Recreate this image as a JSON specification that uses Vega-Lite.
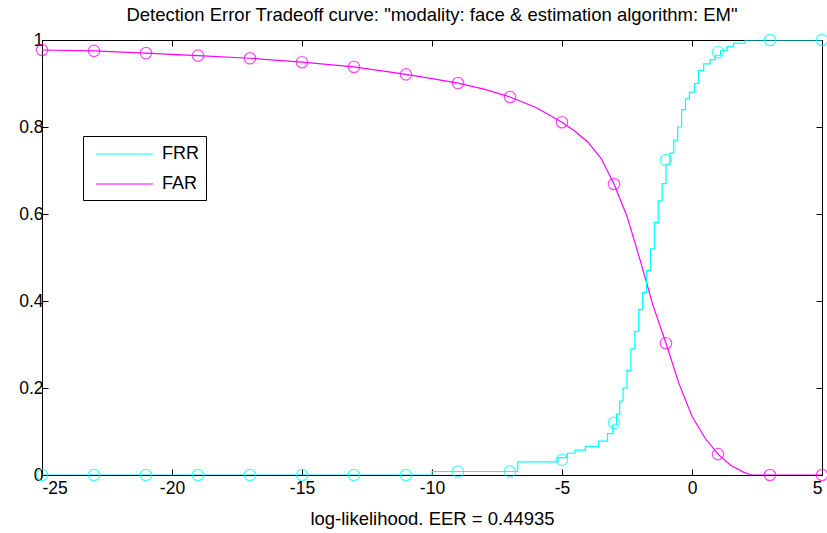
{
  "$schema": "https://vega.github.io/schema/vega-lite/v6.json",
  "width": 780,
  "height": 435,
  "autosize": {"type": "none"},
  "padding": {"left": 42, "top": 40, "right": 5, "bottom": 58},
  "background": "white",
  "title": {
    "text": "Detection Error Tradeoff curve: \"modality: face & estimation algorithm: EM\"",
    "font": "Liberation Sans, Arial, sans-serif",
    "fontSize": 18.5,
    "fontWeight": "normal",
    "color": "black",
    "anchor": "middle",
    "offset": 7
  },
  "config": {
    "view": {"stroke": "black", "strokeWidth": 1},
    "axis": {
      "grid": false,
      "domainColor": "black",
      "tickColor": "black",
      "tickSize": -6,
      "labelColor": "black",
      "labelFont": "Liberation Sans, Arial, sans-serif",
      "labelFontSize": 17.5,
      "titleFont": "Liberation Sans, Arial, sans-serif",
      "titleFontSize": 18.5,
      "titleFontWeight": "normal",
      "titleColor": "black"
    },
    "legend": {
      "orient": "none",
      "legendX": 41,
      "legendY": 96,
      "strokeColor": "black",
      "fillColor": "white",
      "padding": 7,
      "symbolType": "M-0.5,0H5.2",
      "symbolSize": 400,
      "symbolStrokeWidth": 1.2,
      "labelFont": "Liberation Sans, Arial, sans-serif",
      "labelFontSize": 18,
      "labelColor": "black",
      "labelOffset": 50,
      "rowPadding": 10,
      "title": null
    }
  },
  "datasets": {
    "frr": [
      {"x": -25, "rate": 0, "series": "FRR"},
      {"x": -10, "rate": 0.008, "series": "FRR"},
      {"x": -6.7, "rate": 0.03, "series": "FRR"},
      {"x": -5.15, "rate": 0.04, "series": "FRR"},
      {"x": -4.8, "rate": 0.05, "series": "FRR"},
      {"x": -4.5, "rate": 0.057, "series": "FRR"},
      {"x": -4.1, "rate": 0.066, "series": "FRR"},
      {"x": -3.6, "rate": 0.078, "series": "FRR"},
      {"x": -3.25, "rate": 0.095, "series": "FRR"},
      {"x": -3.05, "rate": 0.115, "series": "FRR"},
      {"x": -2.9, "rate": 0.14, "series": "FRR"},
      {"x": -2.78, "rate": 0.17, "series": "FRR"},
      {"x": -2.65, "rate": 0.2, "series": "FRR"},
      {"x": -2.5, "rate": 0.24, "series": "FRR"},
      {"x": -2.35, "rate": 0.29, "series": "FRR"},
      {"x": -2.2, "rate": 0.33, "series": "FRR"},
      {"x": -2.05, "rate": 0.38, "series": "FRR"},
      {"x": -1.9, "rate": 0.42, "series": "FRR"},
      {"x": -1.75, "rate": 0.47, "series": "FRR"},
      {"x": -1.6, "rate": 0.52, "series": "FRR"},
      {"x": -1.45, "rate": 0.58, "series": "FRR"},
      {"x": -1.3, "rate": 0.63, "series": "FRR"},
      {"x": -1.15, "rate": 0.67, "series": "FRR"},
      {"x": -1.0, "rate": 0.715, "series": "FRR"},
      {"x": -0.85, "rate": 0.74, "series": "FRR"},
      {"x": -0.7, "rate": 0.77, "series": "FRR"},
      {"x": -0.55, "rate": 0.8, "series": "FRR"},
      {"x": -0.4, "rate": 0.84, "series": "FRR"},
      {"x": -0.25, "rate": 0.865, "series": "FRR"},
      {"x": -0.1, "rate": 0.88, "series": "FRR"},
      {"x": 0.1, "rate": 0.9, "series": "FRR"},
      {"x": 0.25, "rate": 0.93, "series": "FRR"},
      {"x": 0.45, "rate": 0.945, "series": "FRR"},
      {"x": 0.7, "rate": 0.955, "series": "FRR"},
      {"x": 0.9, "rate": 0.965, "series": "FRR"},
      {"x": 1.1, "rate": 0.975, "series": "FRR"},
      {"x": 1.35, "rate": 0.985, "series": "FRR"},
      {"x": 1.6, "rate": 0.993, "series": "FRR"},
      {"x": 2.05, "rate": 1.0, "series": "FRR"},
      {"x": 5, "rate": 1.0, "series": "FRR"}
    ],
    "far": [
      {"x": -25, "rate": 0.977, "series": "FAR"},
      {"x": -23, "rate": 0.975, "series": "FAR"},
      {"x": -21, "rate": 0.970, "series": "FAR"},
      {"x": -19, "rate": 0.964, "series": "FAR"},
      {"x": -17, "rate": 0.958, "series": "FAR"},
      {"x": -15, "rate": 0.949, "series": "FAR"},
      {"x": -13, "rate": 0.938, "series": "FAR"},
      {"x": -11, "rate": 0.921, "series": "FAR"},
      {"x": -10, "rate": 0.911, "series": "FAR"},
      {"x": -9, "rate": 0.901, "series": "FAR"},
      {"x": -8, "rate": 0.887, "series": "FAR"},
      {"x": -7, "rate": 0.869, "series": "FAR"},
      {"x": -6, "rate": 0.845, "series": "FAR"},
      {"x": -5, "rate": 0.811, "series": "FAR"},
      {"x": -4.5, "rate": 0.79, "series": "FAR"},
      {"x": -4, "rate": 0.765, "series": "FAR"},
      {"x": -3.5, "rate": 0.728, "series": "FAR"},
      {"x": -3, "rate": 0.669, "series": "FAR"},
      {"x": -2.5, "rate": 0.595, "series": "FAR"},
      {"x": -2, "rate": 0.495, "series": "FAR"},
      {"x": -1.5, "rate": 0.39, "series": "FAR"},
      {"x": -1, "rate": 0.303, "series": "FAR"},
      {"x": -0.5, "rate": 0.21, "series": "FAR"},
      {"x": 0, "rate": 0.135, "series": "FAR"},
      {"x": 0.5, "rate": 0.085, "series": "FAR"},
      {"x": 1, "rate": 0.048, "series": "FAR"},
      {"x": 1.5, "rate": 0.022, "series": "FAR"},
      {"x": 2, "rate": 0.006, "series": "FAR"},
      {"x": 2.3, "rate": 0, "series": "FAR"},
      {"x": 5, "rate": 0, "series": "FAR"}
    ],
    "markers": [
      {"x": -25, "rate": 0, "series": "FRR"},
      {"x": -23, "rate": 0, "series": "FRR"},
      {"x": -21, "rate": 0, "series": "FRR"},
      {"x": -19, "rate": 0, "series": "FRR"},
      {"x": -17, "rate": 0, "series": "FRR"},
      {"x": -15, "rate": 0, "series": "FRR"},
      {"x": -13, "rate": 0, "series": "FRR"},
      {"x": -11, "rate": 0, "series": "FRR"},
      {"x": -9, "rate": 0.008, "series": "FRR"},
      {"x": -7, "rate": 0.008, "series": "FRR"},
      {"x": -5, "rate": 0.035, "series": "FRR"},
      {"x": -3, "rate": 0.12, "series": "FRR"},
      {"x": -1, "rate": 0.724, "series": "FRR"},
      {"x": 1, "rate": 0.972, "series": "FRR"},
      {"x": 3, "rate": 1, "series": "FRR"},
      {"x": 5, "rate": 1, "series": "FRR"},
      {"x": -25, "rate": 0.977, "series": "FAR"},
      {"x": -23, "rate": 0.975, "series": "FAR"},
      {"x": -21, "rate": 0.970, "series": "FAR"},
      {"x": -19, "rate": 0.964, "series": "FAR"},
      {"x": -17, "rate": 0.958, "series": "FAR"},
      {"x": -15, "rate": 0.949, "series": "FAR"},
      {"x": -13, "rate": 0.938, "series": "FAR"},
      {"x": -11, "rate": 0.921, "series": "FAR"},
      {"x": -9, "rate": 0.901, "series": "FAR"},
      {"x": -7, "rate": 0.869, "series": "FAR"},
      {"x": -5, "rate": 0.811, "series": "FAR"},
      {"x": -3, "rate": 0.669, "series": "FAR"},
      {"x": -1, "rate": 0.303, "series": "FAR"},
      {"x": 1, "rate": 0.048, "series": "FAR"},
      {"x": 3, "rate": 0, "series": "FAR"},
      {"x": 5, "rate": 0, "series": "FAR"}
    ]
  },
  "layer": [
    {
      "data": {"name": "far"},
      "mark": {"type": "line", "strokeWidth": 1.2, "clip": true},
      "encoding": {
        "x": {"field": "x", "type": "quantitative",
              "scale": {"domain": [-25, 5], "nice": false, "zero": false},
              "axis": {"orient": "bottom", "values": [-25, -20, -15, -10, -5, 0, 5], "labelExpr": "'' + datum.value", "labelPadding": 10, "title": "log-likelihood. EER = 0.44935", "titlePadding": 13}},
        "y": {"field": "rate", "type": "quantitative",
              "scale": {"domain": [0, 1], "nice": false},
              "axis": {"orient": "left", "values": [0, 0.2, 0.4, 0.6, 0.8, 1], "format": "~g", "labelPadding": 5, "title": null}},
        "color": {"field": "series", "type": "nominal",
                  "scale": {"domain": ["FRR", "FAR"], "range": ["#00FFFF", "#FF00FF"]}}
      }
    },
    {
      "data": {"name": "frr"},
      "mark": {"type": "line", "interpolate": "step-after", "strokeWidth": 1.2, "clip": true},
      "encoding": {
        "x": {"field": "x", "type": "quantitative", "axis": null},
        "y": {"field": "rate", "type": "quantitative", "axis": null},
        "color": {"field": "series", "type": "nominal"}
      }
    },
    {
      "data": {"name": "markers"},
      "transform": [{"filter": "datum.series == 'FRR'"}],
      "mark": {"type": "point", "shape": "circle", "filled": false, "size": 130, "strokeWidth": 1.2, "color": "#00FFFF"},
      "encoding": {
        "x": {"field": "x", "type": "quantitative",
              "axis": {"orient": "top", "values": [-25, -20, -15, -10, -5, 0, 5], "labels": false, "title": null}},
        "y": {"field": "rate", "type": "quantitative",
              "axis": {"orient": "right", "values": [0, 0.2, 0.4, 0.6, 0.8, 1], "labels": false, "title": null}}
      }
    },
    {
      "data": {"name": "markers"},
      "transform": [{"filter": "datum.series == 'FAR'"}],
      "mark": {"type": "point", "shape": "circle", "filled": false, "size": 130, "strokeWidth": 1.2, "color": "#FF00FF"},
      "encoding": {
        "x": {"field": "x", "type": "quantitative", "axis": null},
        "y": {"field": "rate", "type": "quantitative", "axis": null}
      }
    }
  ],
  "resolve": {"axis": {"x": "independent", "y": "independent"}}
}
